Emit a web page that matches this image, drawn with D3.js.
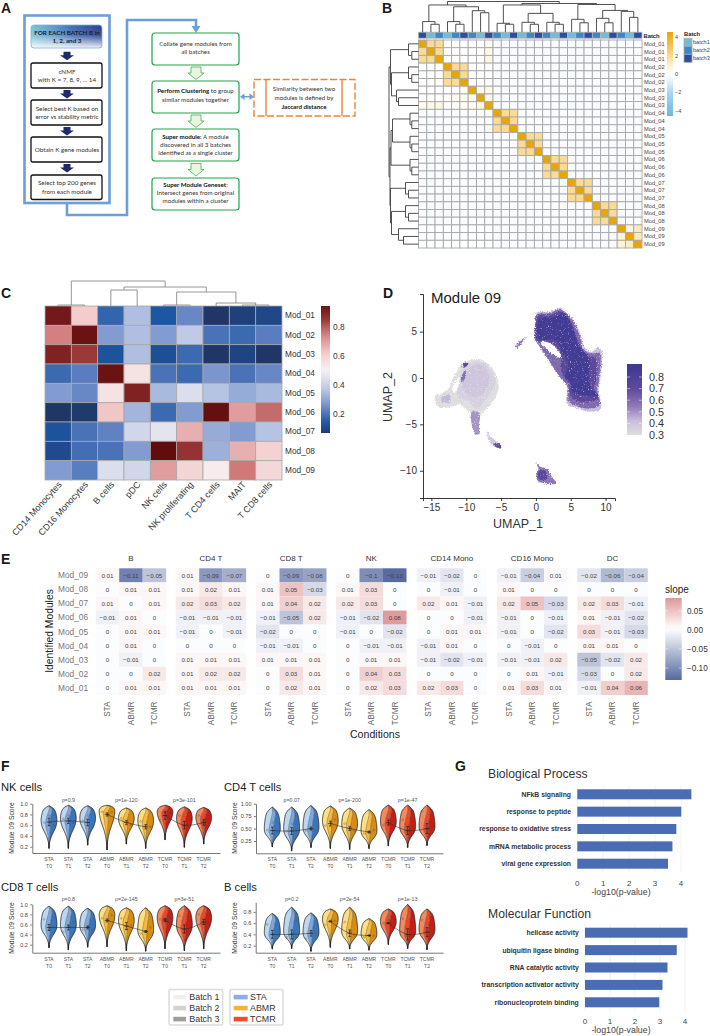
<!DOCTYPE html>
<html>
<head>
<meta charset="utf-8">
<style>
html,body{margin:0;padding:0;background:#fff}
svg{display:block}
text{font-family:"Liberation Sans",Arial,sans-serif}
.flow text{font-family:Lato,"Open Sans",sans-serif}
</style>
<script src="https://cdn.jsdelivr.net/npm/d3@7/dist/d3.min.js"></script>
</head>
<body>
<script>
// ---------- Panel B: module similarity ----------
const similarityModules = ["Mod_01","Mod_01","Mod_01","Mod_02","Mod_02","Mod_02","Mod_03","Mod_03","Mod_03","Mod_04","Mod_04","Mod_04","Mod_05","Mod_05","Mod_05","Mod_06","Mod_06","Mod_06","Mod_07","Mod_07","Mod_07","Mod_08","Mod_08","Mod_08","Mod_09","Mod_09","Mod_09"];
const similarityBatches = [3,1,2,1,2,3,2,1,3,2,1,3,1,2,3,2,1,3,1,2,3,2,1,3,2,1,3];
const similarityRows = [
[4.5,1.9,1.9,0,0,0,0,0,.3,-.2,-.2,-.2,-.2,-.2,-.2,-.2,-.2,-.2,-.2,-.2,-.2,-.2,-.2,-.2,-.1,-.1,-.1],
[1.9,4.5,1.9,0,0,0,0,0,.5,-.2,-.2,-.2,-.2,-.2,-.2,-.2,-.2,-.2,-.2,-.2,-.2,-.2,-.2,-.2,-.1,-.1,-.1],
[1.9,1.9,4.5,0,0,0,0,0,.6,-.2,-.2,-.2,-.2,-.2,-.2,-.2,-.2,-.2,-.2,-.2,-.2,-.2,-.2,-.2,-.1,-.1,-.1],
[-.1,-.1,0,4.5,1.9,1.9,0,0,0,-.2,-.2,-.2,-.2,-.2,-.2,-.2,-.2,-.2,-.2,-.2,-.2,-.2,-.2,-.2,-.1,-.1,-.1],
[0,0,0,1.9,4.5,1.9,0,0,0,-.2,-.2,-.2,-.2,-.2,-.2,-.2,-.2,-.2,-.2,-.2,-.2,-.2,-.2,-.2,-.1,-.1,-.1],
[0,0,0,1.9,1.9,4.5,0,0,.1,-.2,-.2,-.2,-.2,-.2,-.2,-.2,-.2,-.2,-.2,-.2,-.2,-.2,-.2,-.2,-.1,-.1,-.1],
[0,0,0,0,0,.1,4.5,.5,.5,-.2,-.2,-.2,-.2,-.2,-.2,-.2,-.2,-.2,-.2,-.2,-.2,-.2,-.2,-.2,-.1,-.1,-.1],
[0,0,0,.1,.2,.3,.5,4.5,.6,-.2,-.2,-.2,-.2,-.2,-.2,-.2,-.2,-.2,-.2,-.2,-.2,-.2,-.2,-.2,-.1,-.1,-.1],
[.3,.5,.6,0,.2,.2,.4,.6,4.5,-.2,-.2,-.2,-.2,-.2,-.2,-.2,-.2,-.2,-.2,-.2,-.2,-.2,-.2,-.2,-.1,-.1,-.1],
[-.2,-.2,-.2,-.2,-.2,-.2,-.2,-.2,-.2,4.5,1.9,1.9,-.2,-.1,-.1,-.2,-.2,-.2,-.2,-.2,-.2,-.2,-.2,-.2,-.2,-.2,-.2],
[-.2,-.2,-.2,-.2,-.2,-.2,-.2,-.2,-.2,1.9,4.5,1.9,-.1,-.1,-.1,-.2,-.2,-.2,-.2,-.2,-.2,-.2,-.2,-.2,-.2,-.2,-.2],
[-.2,-.2,-.2,-.2,-.2,-.2,-.2,-.2,-.2,1.9,1.9,4.5,-.1,-.1,-.1,-.2,-.2,-.2,-.2,-.2,-.2,-.2,-.2,-.2,-.2,-.2,-.2],
[-.2,-.2,-.2,-.2,-.2,-.2,-.2,-.2,-.2,-.1,-.1,-.1,4.5,1.9,1.9,-.2,-.2,-.2,-.2,-.2,-.2,-.2,-.2,-.2,-.2,-.2,-.2],
[-.2,-.2,-.2,-.2,-.2,-.2,-.2,-.2,-.2,-.1,-.1,-.1,1.9,4.5,1.9,-.2,-.2,-.2,-.2,-.2,-.2,-.2,-.2,-.2,-.2,-.2,-.2],
[-.2,-.2,-.2,-.2,-.2,-.2,-.2,-.2,-.2,-.1,-.1,-.1,1.9,1.9,4.5,-.2,-.2,-.2,-.2,-.2,-.2,-.2,-.2,-.2,-.2,-.2,-.2],
[-.2,-.2,-.2,-.2,-.2,-.2,-.2,-.2,-.2,-.2,-.2,-.2,-.2,-.2,-.2,4.5,1.9,1.9,-.2,-.2,-.2,-.2,-.2,-.2,-.2,-.2,-.2],
[-.2,-.2,-.2,-.2,-.2,-.2,-.2,-.2,-.2,-.2,-.2,-.2,-.2,-.2,-.2,1.9,4.5,1.9,-.2,-.2,-.2,-.2,-.2,-.2,-.2,-.2,-.2],
[-.2,-.2,-.2,-.2,-.2,-.2,-.2,-.2,-.2,-.2,-.2,-.2,-.2,-.2,-.2,1.9,1.9,4.5,-.2,-.2,-.2,-.2,-.2,-.2,-.2,-.2,-.2],
[-.2,-.2,-.2,-.2,-.2,-.2,-.2,-.2,-.2,-.2,-.2,-.2,-.2,-.2,-.2,-.2,-.2,-.2,4.5,1.9,1.9,-.2,-.2,-.2,-.2,-.2,-.2],
[-.2,-.2,-.2,-.2,-.2,-.2,-.2,-.2,-.2,-.2,-.2,-.2,-.2,-.2,-.2,-.2,-.2,-.2,1.9,4.5,1.9,-.2,-.2,-.2,-.2,-.2,-.2],
[-.2,-.2,-.2,-.2,-.2,-.2,-.2,-.2,-.2,-.2,-.2,-.2,-.2,-.2,-.2,-.2,-.2,-.2,1.9,1.9,4.5,-.2,-.2,-.2,-.2,-.2,-.2],
[-.2,-.2,-.2,-.2,-.2,-.2,-.2,-.2,-.2,-.2,-.2,-.2,-.2,-.2,-.2,-.2,-.2,-.2,-.2,-.2,-.2,4.5,1.9,1.9,-.2,-.2,-.2],
[-.2,-.2,-.2,-.2,-.2,-.2,-.2,-.2,-.2,-.2,-.2,-.2,-.2,-.2,-.2,-.2,-.2,-.2,-.2,-.2,-.2,1.9,4.5,1.9,-.2,-.2,-.2],
[-.2,-.2,-.2,-.2,-.2,-.2,-.2,-.2,-.2,-.2,-.2,-.2,-.2,-.2,-.2,-.2,-.2,-.2,-.2,-.2,-.2,1.9,1.9,4.5,-.2,-.2,-.2],
[-.1,-.1,-.1,-.1,-.1,-.1,-.1,-.1,-.1,-.2,-.2,-.2,-.2,-.2,-.2,-.2,-.2,-.2,-.2,-.2,-.2,-.2,-.2,-.2,4.5,.6,1.2],
[-.1,-.1,-.1,-.1,-.1,-.1,-.1,-.1,-.1,-.2,-.2,-.2,-.2,-.2,-.2,-.2,-.2,-.2,-.2,-.2,-.2,-.2,-.2,-.2,.8,4.5,1.2],
[-.1,-.1,-.1,-.1,-.1,-.1,-.1,-.1,-.1,-.2,-.2,-.2,-.2,-.2,-.2,-.2,-.2,-.2,-.2,-.2,-.2,-.2,-.2,-.2,.9,1.2,4.5]
];
// Merge trees: [height, left, right]; a bare number is a leaf index.
const similarityColumnTree = [31,
  [27.5,[10.7,0,[8,1,2]],[25.7,[10.7,3,[8,4,5]],[21.7,6,[19.7,7,8]]]],
  [29,[27.5,[9,9,[8,10,11]],[19,[10,12,[8,13,14]],[10,15,[8,16,17]]]],
      [28,[13,18,[9.5,19,20]],[22,[14,21,[9.5,22,23]],[21,24,[15,25,26]]]]]];
const similarityRowTree = [29.5,
  [28,[10,0,[6.7,1,2]],[27,[10,3,[6.7,4,5]],[22,6,[20,7,8]]]],
  [28.5,[27.5,[26,[8.5,9,[6.7,10,11]],[8.5,12,[6.7,13,14]]],[8.5,15,[6.7,16,17]]],
        [28,[13,18,[10,19,20]],[27,[13,21,[10,22,23]],[20,24,[15,25,26]]]]]];
const batchNames = ["batch1","batch2","batch3"];

// ---------- Panel C: cell type correlation ----------
const cellTypes = ["CD14 Monocytes","CD16 Monocytes","B cells","pDC","NK cells","NK proliferating","T CD4 cells","MAIT","T CD8 cells"];
const moduleNames = ["Mod_01","Mod_02","Mod_03","Mod_04","Mod_05","Mod_06","Mod_07","Mod_08","Mod_09"];
const cellTypeRows = [
[.93,.62,.17,.35,.14,.24,.05,.08,.10],
[.75,.95,.28,.35,.28,.38,.20,.18,.22],
[.90,.85,.13,.35,.12,.18,.05,.09,.05],
[.18,.22,.95,.55,.20,.18,.27,.20,.24],
[.28,.24,.55,.90,.34,.44,.36,.31,.34],
[.05,.06,.63,.33,.18,.28,.96,.70,.78],
[.13,.20,.23,.42,.46,.67,.31,.28,.36],
[.11,.19,.20,.28,.97,.86,.32,.67,.60],
[.28,.22,.44,.42,.70,.59,.52,.76,.58]];
const cellTypeTree = [25,
  [1,0,1],
  [19,[16,2,3],[14,[1,4,5],[3,6,[1,7,8]]]]];

// ---------- Panel D: module score over the UMAP ----------
// Each outline is a list of [UMAP_1, UMAP_2] vertices; the number is its score.
const umapTicksX = [-15,-10,-5,0,5,10];
const umapTicksY = [5,0,-5,-10];
const cloudBigOuter = [[0,7],[2.06,7.16],[3.5,7.6],[4.2,7.16],[5.4,6.26],[6.36,4.82],[7.08,3.2],[8.04,2.84],[8.76,3.27],[9.38,3.02],[9.23,-.22],[9,-1.3],[9.33,-3.27],[7.8,-3.63],[5.89,-3.27],[4.45,-2.73],[4.45,-.94],[3.73,-.22],[2.78,.86],[1.58,2.12],[.38,3.56],[-.24,4.28],[-.1,5.9]];
const cloudBigMid = [[.05,6.8],[2.06,7],[3.5,7.4],[5.3,6.2],[6.25,4.6],[7,3],[8.1,2.65],[9.1,2.75],[9.05,-.22],[8.8,-1.29],[9.15,-2.9],[7.6,-3.3],[5.8,-3],[4.6,-2.45],[4.6,-.94],[3.6,-.05],[2.5,1.15],[.6,3.35],[-.15,4.28],[-.05,5.9]];
const cloudBigUpper = [[.3,6.7],[2.4,6.85],[3.6,7.15],[5.1,5.9],[6,4],[7.2,2.3],[8.5,2.2],[8.6,-.2],[8.3,-1.1],[8.9,-2.2],[7,-2.6],[5.4,-2.3],[4.75,-1.6],[4.75,-.6],[3.9,.2],[3.6,1.1],[3.6,2],[3,3.3],[1.5,4],[.2,3.95],[0,4.4]];
const cloudBigCore = [[0,5.18],[.62,6.44],[2.78,6.62],[3.88,6.98],[5.07,5.72],[6.12,3.56],[7.56,2.12],[7.56,.14],[7.8,-.94],[8.76,-1.83],[6.84,-1.83],[5.17,-1.47],[4.93,-.4],[4.21,.14],[4.69,1.4],[3.73,2.84],[2.78,4.1],[.86,4.1],[0,4.39]];
const cloudBigGap = [[.7,3.85],[2,3.75],[3.2,2.95],[3.75,2.2],[3,2.3],[1.7,3]];
const cloudLeftOuter = [[-14.4,-1.83],[-13.5,-1.65],[-12.5,-1.12],[-11.8,.14],[-10.4,1.58],[-8,2.01],[-6.3,1.04],[-5.36,-.58],[-5.6,-1.83],[-7.03,-3.27],[-8.23,-3.99],[-9.43,-3.74],[-10.86,-2.91],[-12.54,-3.17],[-13.73,-3.17],[-14.45,-2.55]];
const cloudLeftInner = [[-11.24,-.94],[-10.14,1.15],[-8,1.76],[-6.55,.86],[-5.84,-.58],[-6.79,-1.83],[-8.47,-3.27],[-9.9,-2.37],[-11.1,-2.19]];
const cloudLeftCore = [[-10.6,-.6],[-9.8,.9],[-8,1.5],[-7,.7],[-6.7,-.5],[-8.3,-2],[-9.8,-1.8]];
const cloudLeftPatchA = [[-10.62,1.58],[-9.67,1.58],[-10.14,1.15],[-10.48,1.15]];
const cloudLeftPatchB = [[-10.77,-.22],[-10.14,.86],[-10.05,.32],[-10.48,-.4]];
const cloudLeftPatchC = [[-13.5,-2.01],[-12.4,-1.83],[-12.3,-2.55],[-13.5,-2.55]];
const cloudLeftGap = [[-11.96,-1],[-10.96,.14],[-11.24,-1.12],[-11.82,-1.58]];
const cloudTail = [[-9.19,-3.63],[-8.09,-3.81],[-8.18,-5.25],[-8.09,-6.04],[-8.7,-6.04],[-9.19,-5.07]];
const cloudTailEnd = [[-7.03,-5.68],[-6.46,-6.33],[-5.02,-7.23],[-4.98,-7.59],[-6.08,-7.34],[-6.79,-6.69]];
const cloudTailTip = [[-6.08,-7.05],[-5.12,-7.05],[-5.02,-7.59],[-5.98,-7.34]];
const cloudStreak = [[-1.29,4.39],[-1.67,4.1],[-2.73,3.2],[-2.92,3.38],[-2.01,4.17]];
const cloudBottom = [[0,-9.03],[.62,-9.57],[1.58,-9.75],[2.3,-10.65],[2.92,-11.37],[1.34,-11.37],[.29,-11.12],[.05,-10.47],[.38,-9.75]];
const cloudBottomCore = [[.62,-9.93],[1.34,-10],[1.58,-10.83],[.62,-11],[.24,-10.47]];
const umapLayers = [
  [cloudLeftOuter,.3],[cloudLeftInner,.35],[cloudLeftCore,.39],[cloudLeftPatchC,.43],[cloudLeftPatchA,.7],[cloudLeftPatchB,.58],[cloudLeftGap,null],
  [cloudTail,.5],[cloudTailEnd,.38],[cloudTailTip,.68],[cloudStreak,.55],
  [cloudBottom,.56],[cloudBottomCore,.72],
  [cloudBigOuter,.42],[cloudBigMid,.6],[cloudBigUpper,.72],[cloudBigCore,.86],[cloudBigGap,null]];
const umapLegendTicks = [.3,.4,.5,.6,.7,.8];

// ---------- Panel E: slope per condition ----------
const slopeRowNames = ["Mod_09","Mod_08","Mod_07","Mod_06","Mod_05","Mod_04","Mod_03","Mod_02","Mod_01"];
const slopeConditions = ["STA","ABMR","TCMR"];
const slopeGroups = ["B","CD4 T","CD8 T","NK","CD14 Mono","CD16 Mono","DC"];
const slopeB = [[.01,-.11,-.05],[0,.01,.01],[.01,0,.01],[-.01,.01,0],[0,.01,.01],[0,.01,0],[0,-.01,0],[0,0,.02],[0,.01,.01]];
const slopeCD4 = [[.01,-.09,-.07],[.01,.02,.01],[.02,.03,.02],[-.01,-.01,-.01],[-.01,0,-.01],[0,0,0],[.01,.01,.01],[.01,.02,.02],[.01,.01,.01]];
const slopeCD8 = [[0,-.09,-.08],[.01,.05,-.03],[.01,.04,.02],[-.01,-.05,.02],[-.02,0,0],[-.01,-.01,0],[.01,.01,.01],[0,.03,.01],[0,.02,.01]];
const slopeNK = [[0,-.1,-.13],[.01,.03,0],[.02,.03,0],[-.01,-.02,.08],[-.01,0,-.02],[0,-.01,-.01],[0,.01,.01],[0,.04,.03],[0,.02,.03]];
const slopeCD14 = [[-.01,-.02,0],[0,-.01,0],[.02,.01,-.01],[0,0,-.01],[0,.01,.01],[-.01,.01,0],[-.01,-.02,-.01],[0,0,0],[.02,.03,0]];
const slopeCD16 = [[-.01,-.04,.01],[.01,0,0],[.02,.05,-.03],[-.01,0,-.01],[-.01,0,-.02],[0,-.01,0],[-.01,-.01,.02],[0,.01,-.01],[.01,.03,.01]];
const slopeDC = [[-.02,-.06,-.04],[0,0,0],[.02,.03,-.01],[.01,-.01,-.02],[.03,-.01,-.03],[.01,.01,0],[-.05,-.02,.02],[-.03,0,.02],[-.01,.04,.06]];
const slopeTables = [slopeB,slopeCD4,slopeCD8,slopeNK,slopeCD14,slopeCD16,slopeDC];
const slopeLegendTicks = [.05,0,-.05,-.1];

// ---------- Panel F: Module 09 score violins ----------
const violinCondition = ["STA","STA","STA","ABMR","ABMR","ABMR","TCMR","TCMR","TCMR"];
const violinTime = ["T0","T1","T2","T0","T1","T2","T0","T1","T2"];
const nkLow = [.17,.17,.23,.14,.25,.17,.33,.19,.25];
const nkPeak = [.65,.70,.70,.85,.70,.65,.83,.70,.72];
const nkHigh = [.96,.97,.96,.97,.92,.92,.97,.94,.93];
const nkMean = [.66,.68,.65,.80,.65,.57,.78,.60,.65];
const nkErr = [.07,.05,.06,.03,.04,.04,.07,.07,.05];
const nkDots = [[.65,.78,.60],[.72,.78,.64],[.68,.78,.55],[.85,.80,.84],[.73,.66,.60],[.67,.60,.57],[.70,.85,.82],[.78,.58,.60],[.78,.62,.60]];
const cd4Low = [.13,.05,.12,.10,.08,.10,.15,.12,.16];
const cd4Peak = [.45,.45,.48,.62,.55,.42,.60,.50,.50];
const cd4High = [.93,.93,.96,.95,.91,.88,.97,.97,.97];
const cd4Mean = [.46,.45,.50,.60,.50,.43,.62,.46,.50];
const cd4Err = [.07,.07,.03,.05,.04,.02,.05,.08,.10];
const cd4Dots = [[.47,.62,.43],[.45,.60,.46],[.46,.50,.47],[.56,.62,.68],[.60,.52,.45],[.40,.43,.47],[.57,.68,.62],[.68,.45,.45],[.85,.48,.48]];
const cd8Low = [.14,.10,.15,.16,.08,.07,.12,.08,.12];
const cd8Peak = [.55,.55,.55,.75,.65,.45,.70,.55,.70];
const cd8High = [.96,.96,.92,.97,.93,.93,.97,.97,.97];
const cd8Mean = [.54,.54,.54,.68,.57,.46,.69,.51,.65];
const cd8Err = [.06,.05,.03,.03,.07,.02,.03,.08,.05];
const cd8Dots = [[.70,.50,.54],[.45,.56,.66],[.50,.55,.50],[.72,.68,.78],[.72,.50,.58],[.42,.46,.54],[.70,.66,.76],[.77,.44,.50],[.80,.62,.60]];
const bLow = [.14,.15,.10,.17,.14,.12,.22,.15,.13];
const bPeak = [.40,.42,.40,.65,.42,.38,.60,.42,.45];
const bHigh = [.77,.88,.78,.85,.88,.68,.85,.93,.85];
const bMean = [.40,.40,.42,.63,.42,.38,.60,.40,.44];
const bErr = [.07,.08,.05,.01,.06,.01,.01,.10,.08];
const bDots = [[.58,.40,.40],[.35,.42,.65],[.32,.45,.42],[.57,.65,.64],[.62,.45,.38],[.35,.38,.37],[.60,.65,.65],[.68,.38,.40],[.66,.37,.45]];
const violinPalette = {STA:["#bdd7f1","#7ea8dc","#3a74bb"],ABMR:["#ffdf80","#f6ba40","#d98b12"],TCMR:["#f48a5c","#e8492b","#c41f15"]};
const legendBatchNames = ["Batch 1","Batch 2","Batch 3"];
const legendConditionNames = ["STA","ABMR","TCMR"];

// ---------- Panel G: enrichment ----------
const bioTerms = ["NFkB signaling","response to peptide","response to oxidative stress","mRNA metabolic process","viral gene expression"];
const bioValues = [4.4,4.01,3.82,3.67,3.5];
const molTerms = ["helicase activity","ubiquitin ligase binding","RNA catalytic activity","transcription activator activity","ribonucleoprotein  binding"];
const molValues = [4.1,3.67,3.3,3.1,2.97];
const enrichTicks = [0,1,2,3,4];

const svg = d3.select("body").append("svg").attr("width",710).attr("height",1036).attr("viewBox","0 0 710 1036");
const defs = svg.append("defs");

function put(parent,x,y,str,size,opts={}){
  const t = parent.append("text").attr("x",x).attr("y",y).attr("font-size",size)
    .attr("text-anchor",opts.anchor||"start").attr("fill",opts.fill||"#222").text(str);
  if(opts.bold) t.attr("font-weight","bold");
  if(opts.rotate!==undefined) t.attr("transform",`rotate(${opts.rotate} ${x} ${y})`);
  return t;
}
function gradient(id,stops,x2,y2){
  const g = defs.append("linearGradient").attr("id",id).attr("x1",0).attr("y1",0).attr("x2",x2).attr("y2",y2);
  stops.forEach(([o,c,a])=>g.append("stop").attr("offset",o).attr("stop-color",c).attr("stop-opacity",a===undefined?1:a));
}
// Panel letters
[["A",1,13],["B",382,13],["C",1,298],["D",383,298],["E",1,564],["F",1,771],["G",455,771]]
  .forEach(([l,x,y])=>put(svg,x,y,l,14,{bold:true,fill:"#1a1a1a"}));

// Generic dendrogram: position comes from the leaf scale, depth from the height scale.
function dendrogram(parent,tree,leafPos,heightPos,horizontal,color){
  const segs = [];
  (function walk(n){
    if(typeof n==="number") return {p:leafPos(n),h:0};
    const a = walk(n[1]), b = walk(n[2]);
    segs.push([[a.p,a.h],[a.p,n[0]],[b.p,n[0]],[b.p,b.h]]);
    return {p:(a.p+b.p)/2,h:n[0]};
  })(tree);
  const line = d3.line().x(d=>horizontal?heightPos(d[1]):d[0]).y(d=>horizontal?d[0]:heightPos(d[1]));
  parent.append("g").selectAll("path").data(segs).join("path")
    .attr("d",line).attr("fill","none").attr("stroke",color).attr("stroke-width",.9);
}

// ---------- A: workflow ----------
(function(){
  const g = svg.append("g").attr("class","flow");
  const blue = "#6a9fd8";
  g.append("rect").attr("x",24.5).attr("y",15.5).attr("width",85).attr("height",187.5).attr("fill","none").attr("stroke",blue).attr("stroke-width",2.6);
  g.append("path").attr("d","M67 203V215H127V20H196V30").attr("fill","none").attr("stroke",blue).attr("stroke-width",2.6);
  g.append("path").attr("d","M191.5 26H200.5L196 33Z").attr("fill",blue);
  gradient("headH",[[0,"#7cc5d8"],[.35,"#5a94c6"],[.6,"#3f6bb0"],[1,"#2a3f8f"]],1,0);
  gradient("headV",[[0,"#fff",0],[.45,"#fff",.1],[1,"#fff",.92]],0,1);
  g.append("rect").attr("x",31).attr("y",25).attr("width",71).attr("height",23).attr("rx",3).attr("fill","url(#headH)");
  g.append("rect").attr("x",31).attr("y",25).attr("width",71).attr("height",23).attr("rx",3).attr("fill","url(#headV)").attr("stroke","#7fb2de").attr("stroke-width",.8);
  put(g,67,34.5,"FOR EACH BATCH B in",6.3,{anchor:"middle",bold:true,fill:"#222"});
  put(g,67,42.5,"1, 2, and 3",6.3,{anchor:"middle",bold:true,fill:"#222"});
  const boxes = [[63,25,["cNMF","with K = 7, 8, 9, ... 14"]],[100,25,["Select best K based on","error vs stability metric"]],[137,25,["Obtain K gene modules"]],[175,24.5,["Select top 200 genes","from each module"]]];
  boxes.forEach(([y,h,lines])=>{
    g.append("rect").attr("x",31).attr("y",y).attr("width",71).attr("height",h).attr("rx",2).attr("fill","#fff").attr("stroke","#111").attr("stroke-width",1.3);
    const y0 = y+h/2+2.2-(lines.length-1)*4.1;
    lines.forEach((s,i)=>put(g,67,y0+i*8.2,s,6.3,{anchor:"middle",fill:"#333"}));
  });
  [51.7,90,127,164].forEach(y=>g.append("path").attr("d",`M63.5 ${y}H70.5V${y+3.5}H74L67 ${y+8.5}L60 ${y+3.5}H63.5Z`).attr("fill","#1d2a6b"));
  const green = "#19a64c";
  [[33,32],[81,32],[129,32],[178,32]].forEach(([y,h])=>g.append("rect").attr("x",152).attr("y",y).attr("width",87).attr("height",h).attr("rx",3).attr("fill","#fff").attr("stroke",green).attr("stroke-width",1.2));
  [67,115,163.5].forEach(y=>g.append("path").attr("d",`M191 ${y}H201V${y+6}H204L196 ${y+12.5}L188 ${y+6}H191Z`).attr("fill","#eaf5e0").attr("stroke","#3db35e").attr("stroke-width",.8));
  const greenLines = [[46,[["Collate gene modules from"]]],[54,[["all batches"]]],
    [93,[["Perform Clustering",1],[" to group"]]],[102,[["similar modules together"]]],
    [138.5,[["Super module:",1],[" A module"]]],[146.6,[["discovered in all 3 batches"]]],[154.7,[["identified as a single cluster"]]],
    [187,[["Super Module Geneset",1],[":"]]],[195,[["Intersect genes from original"]]],[203,[["modules within a cluster"]]]];
  greenLines.forEach(([y,parts])=>{
    const t = g.append("text").attr("x",195.5).attr("y",y).attr("font-size",6.2).attr("text-anchor","middle").attr("fill","#333");
    parts.forEach(([s,b])=>t.append("tspan").attr("font-weight",b?"bold":"normal").attr("fill",b?"#111":"#333").text(s));
  });
  g.append("rect").attr("x",254).attr("y",79.5).attr("width",101).attr("height",36.5).attr("fill","none").attr("stroke","#ee8434").attr("stroke-width",1.4).attr("stroke-dasharray","7 2.5");
  [266,342].forEach(x=>g.append("path").attr("d",`M${x} 79.5V116`).attr("stroke","#ee8434").attr("stroke-width",1.4));
  g.append("path").attr("d","M243 96.7H251").attr("stroke",blue).attr("stroke-width",1.5);
  g.append("path").attr("d","M240 96.7L244.5 93.5V100ZM254 96.7L249.5 93.5V100Z").attr("fill",blue);
  put(g,304,90.5,"Similarity between two",6.2,{anchor:"middle",fill:"#333"});
  put(g,304,99.5,"modules is defined by",6.2,{anchor:"middle",fill:"#333"});
  put(g,304,108.7,"Jaccard distance",6.2,{anchor:"middle",bold:true,fill:"#111"});
})();

// ---------- B: similarity heat map ----------
(function(){
  const g = svg.append("g");
  const n = similarityRows.length;
  const x = d3.scaleBand().domain(d3.range(n)).range([418.5,642]);
  const y = d3.scaleBand().domain(d3.range(n)).range([40,248]);
  const color = d3.scaleLinear().domain([-4.6,-2,-.6,0,1,2,4.5]).range(["#6bb5e3","#a9d6f2","#eef6fd","#ffffff","#fdf0cf","#fbd98c","#e8a605"]).clamp(true);
  const batchColor = d3.scaleOrdinal().domain([1,2,3]).range(["#74bcd6","#3f87c2","#2f4c9e"]);
  g.selectAll(".anno").data(similarityBatches).join("rect")
    .attr("x",(d,i)=>x(i)).attr("y",32.2).attr("width",x.bandwidth()).attr("height",6).attr("fill",d=>batchColor(d)).attr("stroke","#b5b5b5").attr("stroke-width",.8);
  g.append("g").selectAll("g").data(similarityRows).join("g").each(function(row,r){
    d3.select(this).selectAll("rect").data(row).join("rect")
      .attr("x",(d,c)=>x(c)).attr("y",y(r)).attr("width",x.bandwidth()).attr("height",y.bandwidth())
      .attr("fill",d=>color(d)).attr("stroke","#a8a8a8").attr("stroke-width",.9);
  });
  g.selectAll(".rowl").data(similarityModules).join("text").attr("x",644).attr("y",(d,i)=>y(i)+y.bandwidth()/2+2)
    .attr("font-size",5.7).attr("fill","#444").text(d=>d);
  put(g,643.5,37.5,"Batch",5.8,{bold:true});
  dendrogram(g,similarityColumnTree,i=>x(i)+x.bandwidth()/2,d3.scaleLinear().domain([0,31]).range([32.2,1.5]),false,"#3d3d3d");
  dendrogram(g,similarityRowTree,i=>y(i)+y.bandwidth()/2,d3.scaleLinear().domain([0,30]).range([418.5,388.5]),true,"#3d3d3d");
  // colour bar
  const barY = d3.scaleLinear().domain([4.6,-4.6]).range([32,116]);
  gradient("simBar",d3.range(0,1.001,.05).map(t=>[t,color(barY.invert(32+84*t))]),0,1);
  g.append("rect").attr("x",667).attr("y",32).attr("width",6).attr("height",84).attr("fill","url(#simBar)");
  [4,2,0,-2,-4].forEach(v=>put(g,675,barY(v)+2,d3.format("")(v).replace("-","−"),5.5,{fill:"#444"}));
  put(g,684,36,"Batch",5.8,{bold:true});
  batchNames.forEach((s,i)=>{
    g.append("rect").attr("x",684).attr("y",38.3+i*8).attr("width",8).attr("height",8).attr("fill",batchColor(i+1)).attr("stroke","#aaa").attr("stroke-width",.8);
    put(g,693,44.3+i*8,s,5.6,{fill:"#444"});
  });
})();

// ---------- C: cell type heat map ----------
(function(){
  const g = svg.append("g");
  const x = d3.scaleBand().domain(cellTypes).range([45,282]);
  const y = d3.scaleBand().domain(moduleNames).range([306,480]);
  const color = d3.scaleLinear().domain([.05,.14,.25,.36,.5,.62,.75,.87,.95]).range(["#1f3666","#1d56a3","#6f8cc8","#b6c4e4","#f6f1f4","#f3cccc","#d58080","#8f2b2b","#6a1313"]);
  g.append("g").selectAll("g").data(cellTypeRows).join("g").each(function(row,r){
    d3.select(this).selectAll("rect").data(row).join("rect")
      .attr("x",(d,c)=>x(cellTypes[c])).attr("y",y(moduleNames[r])).attr("width",x.bandwidth()).attr("height",y.bandwidth())
      .attr("fill",d=>color(d)).attr("stroke","#a9a9a9").attr("stroke-width",.8);
  });
  moduleNames.forEach(m=>put(g,285,y(m)+y.bandwidth()/2+2.8,m,8.3,{fill:"#333"}));
  cellTypes.forEach(c=>{
    const px = x(c)+x.bandwidth()/2+4;
    put(g,px,485,c,9,{anchor:"end",rotate:-48,fill:"#333"});
  });
  dendrogram(g,cellTypeTree,i=>x(cellTypes[i])+x.bandwidth()/2,d3.scaleLinear().domain([0,25]).range([306,281]),false,"#8a8a8a");
  const barY = d3.scaleLinear().domain([.945,.07]).range([306,433]);
  gradient("ctBar",d3.range(0,1.001,.05).map(t=>[t,color(barY.invert(306+127*t))]),0,1);
  g.append("rect").attr("x",321).attr("y",306).attr("width",9).attr("height",127).attr("fill","url(#ctBar)");
  [.8,.6,.4,.2].forEach(v=>put(g,333,barY(v)+2.8,d3.format(".1f")(v),8.4,{fill:"#333"}));
})();

// ---------- D: UMAP ----------
(function(){
  const g = svg.append("g");
  const x = d3.scaleLinear().domain([-16.2,11.35]).range([423,615]);
  const y = d3.scaleLinear().domain([-12.94,9.06]).range([498,294]);
  const color = d3.scaleLinear().domain([.3,.42,.55,.7,.88]).range(["#dedede","#c9bedd","#8f78b8","#5f4a9c","#3f3a94"]).clamp(true);
  // Scatter the outlines and pepper them with pale flecks so they read as dense cell clouds.
  const grain = defs.append("filter").attr("id","cellGrain").attr("x","-10%").attr("y","-10%").attr("width","120%").attr("height","120%").attr("color-interpolation-filters","sRGB");
  grain.append("feTurbulence").attr("type","fractalNoise").attr("baseFrequency",.85).attr("numOctaves",2).attr("seed",4).attr("result","noise");
  grain.append("feDisplacementMap").attr("in","SourceGraphic").attr("in2","noise").attr("scale",4).attr("xChannelSelector","R").attr("yChannelSelector","G").attr("result","spread");
  grain.append("feColorMatrix").attr("in","noise").attr("type","matrix").attr("values","0 0 0 0 1  0 0 0 0 1  0 0 0 0 1  2.6 0 0 0 -1.62").attr("result","flecks");
  grain.append("feComposite").attr("in","flecks").attr("in2","spread").attr("operator","in").attr("result","inside");
  const merge = grain.append("feMerge");
  merge.append("feMergeNode").attr("in","spread");
  merge.append("feMergeNode").attr("in","inside");
  const line = d3.line().x(d=>x(d[0])).y(d=>y(d[1])).curve(d3.curveCatmullRomClosed.alpha(.5));
  g.append("g").attr("filter","url(#cellGrain)").selectAll("path").data(umapLayers).join("path")
    .attr("d",d=>line(d[0])).attr("fill",d=>d[1]===null?"#fff":color(d[1]));
  const ax = g.append("g").attr("transform","translate(0,498)").call(d3.axisBottom(x).tickValues(umapTicksX).tickSizeOuter(0).tickSize(3));
  const ay = g.append("g").attr("transform","translate(423,0)").call(d3.axisLeft(y).tickValues(umapTicksY).tickSizeOuter(0).tickSize(3));
  [ax,ay].forEach(a=>{a.selectAll("text").attr("font-size",10).attr("fill","#333").style("font-family","'Liberation Sans'");a.selectAll("path,line").attr("stroke","#222").attr("stroke-width",.9);});
  put(g,431,303,"Module 09",15,{fill:"#222"});
  put(g,518,527.5,"UMAP_1",12.5,{anchor:"middle",fill:"#333"});
  put(g,392,397,"UMAP_2",12.5,{anchor:"middle",rotate:-90,fill:"#333"});
  const barY = d3.scaleLinear().domain([.3,.8]).range([435,377]);
  gradient("umapBar",d3.range(0,1.001,.05).map(t=>[t,color(barY.invert(364+71*t))]),0,1);
  g.append("rect").attr("x",627).attr("y",364).attr("width",15).attr("height",71).attr("fill","url(#umapBar)");
  umapLegendTicks.forEach(v=>{
    put(g,649,barY(v)+3.8,d3.format(".1f")(v),10.8,{fill:"#333"});
    if(v>.3) g.append("path").attr("d",`M627 ${barY(v)}h3M639 ${barY(v)}h3`).attr("stroke","#fff").attr("stroke-width",.5);
  });
})();

// ---------- E: slope tiles ----------
(function(){
  const g = svg.append("g");
  const groupStarts = [95.7,175.7,256,336,416.7,497,577.3];
  const y = d3.scaleBand().domain(slopeRowNames).range([568.3,695]);
  const color = d3.scaleLinear().domain([-.131,.003,.083]).range(["#586aa0","#ffffff","#df9798"]);
  slopeGroups.forEach((name,k)=>{
    const x = d3.scaleBand().domain(slopeConditions).range([groupStarts[k],groupStarts[k]+70.5]);
    const pg = g.append("g");
    slopeTables[k].forEach((row,r)=>{
      row.forEach((v,c)=>{
        const cx = x(slopeConditions[c]), cy = y(slopeRowNames[r]);
        pg.append("rect").attr("x",cx).attr("y",cy).attr("width",x.bandwidth()).attr("height",y.bandwidth()).attr("fill",color(v));
        put(pg,cx+x.bandwidth()/2,cy+y.bandwidth()/2+2.2,d3.format("")(v).replace("-","−"),6.2,{anchor:"middle",fill:"#444"});
      });
    });
    put(pg,groupStarts[k]+35.2,561,name,8,{anchor:"middle",fill:"#333"});
    slopeConditions.forEach(s=>put(pg,x(s)+x.bandwidth()/2+2.9,701.5,s,8.2,{anchor:"end",rotate:-90,fill:"#666"}));
  });
  slopeRowNames.forEach(m=>put(g,88,y(m)+y.bandwidth()/2+2.9,m,8.3,{anchor:"end",fill:"#777"}));
  put(g,53,631,"Identified Modules",10.3,{anchor:"middle",rotate:-90,fill:"#222"});
  put(g,375,737.5,"Conditions",10.6,{anchor:"middle",fill:"#222"});
  put(g,665,592.5,"slope",10,{fill:"#222"});
  const barY = d3.scaleLinear().domain([.05,-.1]).range([610.7,668]);
  gradient("slopeBar",d3.range(0,1.001,.05).map(t=>[t,color(barY.invert(598+82*t))]),0,1);
  g.append("rect").attr("x",665.3).attr("y",598).attr("width",16.4).attr("height",82).attr("fill","url(#slopeBar)");
  slopeLegendTicks.forEach(v=>{
    put(g,687,barY(v)+2.9,d3.format(".2f")(v).replace("-","−"),8.2,{fill:"#333"});
    g.append("path").attr("d",`M665.3 ${barY(v)}h3M678.7 ${barY(v)}h3`).attr("stroke","#fff").attr("stroke-width",.5);
  });
})();

// ---------- F: violins ----------
// Density silhouette shared by the violins: [fraction of the way to the peak or the top, width, band split a, band split b].
const lowerShape = [[0,.03,-.2,.2],[.22,.07,-.2,.2],[.5,.36,-.3,.25],[.78,.82,-.42,.2],[1,1,-.42,.15]];
const upperShape = [[.4,.96,-.25,.3],[.78,.68,.05,.6],[1,.03,.3,.8]];
function drawViolins(opt){
  const g = svg.append("g");
  const y = d3.scaleLinear().domain(opt.domain).range(opt.range);
  const x = d3.scalePoint().domain(d3.range(9)).range(opt.centers);
  g.append("g").attr("transform",`translate(${opt.axisX},0)`).call(d3.axisLeft(y).tickValues(opt.ticks).tickFormat(d3.format(opt.fmt)).tickSize(2).tickSizeOuter(0))
    .call(a=>{a.selectAll("text").attr("font-size",5.5).attr("fill","#444").style("font-family","'Liberation Sans'").attr("dx",".5");a.selectAll("path,line").attr("stroke","#777");});
  const xa = g.append("g").attr("transform",`translate(0,${opt.range[0]})`).call(d3.axisBottom(d3.scaleLinear().domain([0,1]).range([opt.axisX,opt.axisEnd])).tickValues([]).tickSize(0));
  xa.selectAll("path").attr("stroke","#777");
  d3.range(9).forEach(i=>{
    const cx = x(i), half = 7.8, pal = violinPalette[violinCondition[i]];
    const low=opt.low[i], peak=opt.peak[i], high=opt.high[i];
    const profile = lowerShape.map(([t,w,a,b])=>({s:low+(peak-low)*t,w,a,b})).concat(upperShape.map(([t,w,a,b])=>({s:peak+(high-peak)*t,w,a,b})));
    const area = (x0,x1)=>d3.area().y(d=>y(d.s)).x0(x0).x1(x1).curve(d3.curveCatmullRom.alpha(.5));
    const left = area(d=>cx-d.w*half,d=>cx+d.a*d.w*half);
    const mid = area(d=>cx+d.a*d.w*half,d=>cx+d.b*d.w*half);
    const right = area(d=>cx+d.b*d.w*half,d=>cx+d.w*half);
    const outline = area(d=>cx-d.w*half,d=>cx+d.w*half);
    [left,mid,right].forEach((fn,k)=>g.append("path").attr("d",fn(profile)).attr("fill",pal[k]).attr("stroke","#333").attr("stroke-width",.25));
    g.append("path").attr("d",outline(profile)).attr("fill","none").attr("stroke","#1a1a1a").attr("stroke-width",.55);
    g.append("path").attr("d",`M${cx} ${y(low)}V${y(low+(peak-low)*.25)}`).attr("stroke","#222").attr("stroke-width",.8);
    opt.dots[i].forEach((v,k)=>g.append("circle").attr("cx",cx+[-5,.6,4.8][k]).attr("cy",y(v)).attr("r",.9).attr("fill","none").attr("stroke","#555").attr("stroke-width",.35));
    const m=opt.mean[i], e=opt.err[i];
    g.append("path").attr("d",`M${cx} ${y(m-e)}V${y(m+e)}M${cx-1.3} ${y(m-e)}h2.6M${cx-1.3} ${y(m+e)}h2.6M${cx-2.2} ${y(m)}h4.4`).attr("stroke","#111").attr("stroke-width",.6).attr("fill","none");
    put(g,cx,opt.labelY,violinCondition[i],5,{anchor:"middle",fill:"#555"});
    put(g,cx,opt.labelY+7.3,violinTime[i],5,{anchor:"middle",fill:"#555"});
  });
  const trend = d3.line().x(d=>x(d)).y(d=>y(opt.mean[d])).curve(d3.curveCatmullRom.alpha(.5));
  [[0,1,2],[3,4,5],[6,7,8]].forEach((trip,k)=>{
    g.append("path").attr("d",trend(trip)).attr("fill","none").attr("stroke","#333").attr("stroke-width",.6);
    put(g,x(trip[1]),opt.pY,opt.pLabels[k],5.3,{anchor:"middle",fill:"#555"});
  });
  put(g,opt.titleX,opt.titleY,opt.title,11.2,{fill:"#222"});
  put(g,opt.yTitleX,opt.yTitleMid,"Module 09 Score",6.8,{anchor:"middle",rotate:-90,fill:"#333"});
}
const leftCenters = [49,203.7], rightCenters = [272.3,427];
drawViolins({title:"NK cells",titleX:1,titleY:791,domain:[.083,1],range:[853,803.7],ticks:[.2,.4,.6,.8,1],fmt:".1f",axisX:32.3,axisEnd:220,centers:leftCenters,low:nkLow,peak:nkPeak,high:nkHigh,mean:nkMean,err:nkErr,dots:nkDots,labelY:861,pY:802,pLabels:["p=0.9","p=1e-120","p=3e-101"],yTitleX:14,yTitleMid:828});
drawViolins({title:"CD4 T cells",titleX:224,titleY:791,domain:[.0025,1],range:[853.3,803.7],ticks:[.25,.5,.75,1],fmt:".2f",axisX:256,axisEnd:443,centers:rightCenters,low:cd4Low,peak:cd4Peak,high:cd4High,mean:cd4Mean,err:cd4Err,dots:cd4Dots,labelY:861,pY:802,pLabels:["p=0.07","p=1e-200","p=1e-47"],yTitleX:237,yTitleMid:828});
drawViolins({title:"CD8 T cells",titleX:1,titleY:891,domain:[.04,1],range:[952.7,904.3],ticks:[.2,.4,.6,.8,1],fmt:".1f",axisX:32.3,axisEnd:220,centers:leftCenters,low:cd8Low,peak:cd8Peak,high:cd8High,mean:cd8Mean,err:cd8Err,dots:cd8Dots,labelY:961,pY:901,pLabels:["p=0.8","p=2e-145","p=3e-51"],yTitleX:13.5,yTitleMid:928});
drawViolins({title:"B cells",titleX:224,titleY:891,domain:[.075,.97],range:[952.7,902.3],ticks:[.2,.4,.6,.8],fmt:".1f",axisX:255.7,axisEnd:443,centers:rightCenters,low:bLow,peak:bPeak,high:bHigh,mean:bMean,err:bErr,dots:bDots,labelY:961,pY:901,pLabels:["p=0.2","p=2e-54","p=1e-13"],yTitleX:237,yTitleMid:928});

// legend boxes
(function(){
  const g = svg.append("g");
  [[169,53.7],[230,53]].forEach(([x,w])=>g.append("rect").attr("x",x).attr("y",989.5).attr("width",w).attr("height",35.5).attr("rx",1.5).attr("fill","#fff").attr("stroke","#dcdcdc").attr("stroke-width",1.5));
  const batchSwatch = ["#f0f0f0","#d2d2d2","#a19d9d"], condSwatch = ["#8ab0e0","#f9b33c","#ea4f2c"];
  legendBatchNames.forEach((s,i)=>{
    g.append("rect").attr("x",173.3).attr("y",994.8+i*11).attr("width",12.7).attr("height",4.6).attr("fill",batchSwatch[i]);
    put(g,189.3,999.9+i*11,s,8.9,{fill:"#333"});
  });
  legendConditionNames.forEach((s,i)=>{
    g.append("rect").attr("x",233.7).attr("y",994.8+i*11).attr("width",14).attr("height",4.6).attr("fill",condSwatch[i]);
    put(g,250,999.9+i*11,s,8.9,{fill:"#333"});
  });
})();

// ---------- G: enrichment bars ----------
function drawEnrichment(opt){
  const g = svg.append("g");
  const x = d3.scaleLinear().domain([0,4]).range([opt.x0,opt.x4]);
  const y = d3.scalePoint().domain(opt.terms).range(opt.rows);
  put(g,488,opt.titleY,opt.title,12.2,{fill:"#333"});
  enrichTicks.forEach(t=>g.append("line").attr("x1",x(t)).attr("x2",x(t)).attr("y1",opt.gridTop).attr("y2",opt.gridBottom).attr("stroke","#eeeeee").attr("stroke-width",.8));
  g.selectAll(".bar").data(opt.values).join("rect")
    .attr("x",x(0)).attr("y",(d,i)=>y(opt.terms[i])-5).attr("width",d=>x(d)-x(0)).attr("height",10).attr("fill","#4a6cb3");
  opt.terms.forEach(s=>put(g,opt.labelX,y(s)+2.4,s,6.8,{anchor:"end",bold:true,fill:"#333"}));
  enrichTicks.forEach(t=>put(g,x(t),opt.tickY,t,8,{anchor:"middle",fill:"#444"}));
  put(g,621,opt.axisY,"-log10(p-value)",8.8,{anchor:"middle",fill:"#444"});
}
drawEnrichment({title:"Biological Process",titleY:778,terms:bioTerms,values:bioValues,x0:577.3,x4:681,rows:[794.3,863.7],gridTop:785,gridBottom:872,labelX:571,tickY:886,axisY:895});
drawEnrichment({title:"Molecular Function",titleY:918,terms:molTerms,values:molValues,x0:585,x4:685,rows:[932.7,1002.3],gridTop:924,gridBottom:1011,labelX:578.7,tickY:1024.3,axisY:1033});
</script>
</body>
</html>
